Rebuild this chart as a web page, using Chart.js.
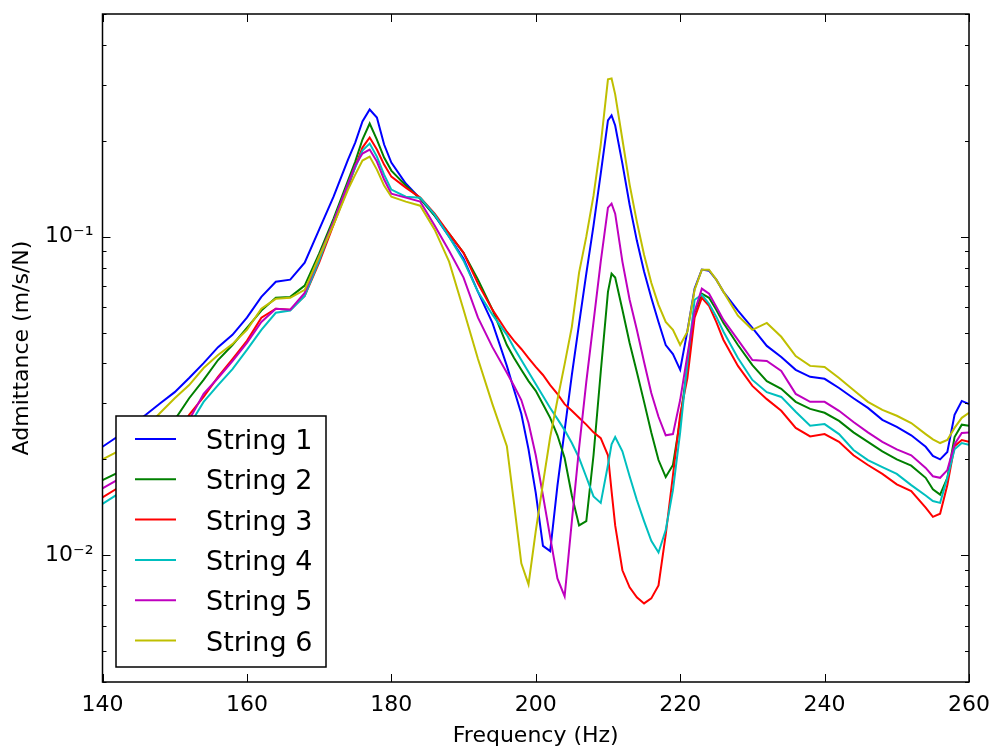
<!DOCTYPE html>
<html lang="en">
<head>
    <meta charset="UTF-8">
    <title>Admittance of six strings</title>
    <style>
        html, body { margin: 0; padding: 0; background: #fff; }
        #wrap { width: 991px; height: 749px; }
    </style>
</head>
<body>
    <div id="wrap"><canvas id="chart" width="991" height="749"></canvas></div>

    <script src="https://cdn.jsdelivr.net/npm/chart.js@4.4.1/dist/chart.umd.js"></script>

    <script>
        // frequency grid (Hz), denser around the sharp resonances
        const freq = [140,142,144,146,148,150,152,154,156,158,160,162,164,166,168,170,172,174,
            175,176,177,178,179,180,
            182,184,186,188,190,192,194,196,
            197,198,199,200,201,202,203,204,205,206,207,208,209,210,
            210.5,
            211,212,213,214,215,216,217,218,219,220,221,222,223,224,225,226,
            228,230,232,234,236,238,240,242,244,246,248,250,252,254,
            255,256,257,258,259,260];

        // admittance (m/s/N)
        const string1 = [0.0219,0.0235,0.0255,0.0276,0.0300,0.0325,0.0360,0.0401,0.0450,0.0492,0.0557,0.0647,0.0722,0.0733,0.0829,0.1052,0.1335,0.1746,
            0.1974,0.2299,0.2508,0.2367,0.1946,0.1708,
            0.1468,0.1316,0.1164,0.1000,0.0852,0.0671,0.0536,0.0393,
            0.0330,0.0278,0.0215,0.0157,0.0107,0.0103,0.0165,0.0247,0.0368,0.0532,0.0765,0.1083,0.1578,0.2316,
            0.2401,
            0.2234,0.1696,0.1260,0.0972,0.0777,0.0643,0.0540,0.0457,0.0428,0.0382,0.0506,0.0687,0.0788,0.0782,0.0733,0.0671,
            0.0586,0.0517,0.0454,0.0419,0.0382,0.0363,0.0358,0.0335,0.0311,0.0290,0.0266,0.0253,0.0238,0.0219,
            0.0205,0.0200,0.0211,0.0276,0.0305,0.0298];
        const string2 = [0.0172,0.0181,0.0199,0.0219,0.0242,0.0266,0.0311,0.0355,0.0410,0.0457,0.0517,0.0586,0.0643,0.0647,0.0702,0.0884,0.1139,0.1500,
            0.1721,0.2018,0.2266,0.2018,0.1771,0.1612,
            0.1447,0.1316,0.1164,0.1022,0.0890,0.0733,0.0590,0.0457,
            0.0416,0.0382,0.0352,0.0328,0.0298,0.0270,0.0238,0.0202,0.0154,0.0124,0.0128,0.0206,0.0376,0.0671,
            0.0765,
            0.0744,0.0590,0.0464,0.0376,0.0303,0.0243,0.0199,0.0176,0.0192,0.0266,0.0390,0.0577,0.0662,0.0643,0.0590,0.0536,
            0.0457,0.0395,0.0352,0.0333,0.0303,0.0288,0.0280,0.0264,0.0243,0.0227,0.0212,0.0200,0.0191,0.0175,
            0.0161,0.0155,0.0175,0.0235,0.0257,0.0255];
        const string3 = [0.0152,0.0162,0.0178,0.0196,0.0215,0.0235,0.0276,0.0314,0.0363,0.0413,0.0471,0.0557,0.0594,0.0590,0.0652,0.0829,0.1091,0.1426,
            0.1659,0.1904,0.2048,0.1877,0.1684,0.1543,
            0.1426,0.1326,0.1181,0.1022,0.0890,0.0712,0.0590,0.0503,
            0.0471,0.0444,0.0416,0.0390,0.0368,0.0342,0.0321,0.0298,0.0284,0.0270,0.0257,0.0243,0.0233,0.0206,
            0.0159,
            0.0124,0.00897,0.00793,0.00738,0.00706,0.00732,0.00804,0.0116,0.0178,0.0276,0.0360,0.0557,0.0643,0.0607,0.0540,0.0474,
            0.0393,0.0340,0.0309,0.0284,0.0251,0.0236,0.0240,0.0227,0.0206,0.0192,0.0180,0.0167,0.0159,0.0141,
            0.0132,0.0135,0.0166,0.0220,0.0230,0.0227];
        const string4 = [0.0145,0.0155,0.0170,0.0185,0.0203,0.0223,0.0255,0.0303,0.0342,0.0384,0.0441,0.0510,0.0577,0.0586,0.0652,0.0841,0.1115,0.1457,
            0.1648,0.1863,0.1960,0.1784,0.1566,0.1405,
            0.1335,0.1326,0.1173,0.1000,0.0841,0.0671,0.0569,0.0492,
            0.0447,0.0410,0.0376,0.0345,0.0316,0.0290,0.0268,0.0247,0.0225,0.0202,0.0176,0.0153,0.0146,0.0192,
            0.0223,
            0.0235,0.0212,0.0177,0.0149,0.0128,0.0111,0.0102,0.0120,0.0160,0.0243,0.0404,0.0634,0.0657,0.0616,0.0561,0.0503,
            0.0416,0.0355,0.0325,0.0314,0.0282,0.0255,0.0258,0.0240,0.0214,0.0199,0.0189,0.0180,0.0166,0.0154,
            0.0148,0.0146,0.0175,0.0215,0.0225,0.0222];
        const string5 = [0.0162,0.0172,0.0188,0.0205,0.0223,0.0243,0.0266,0.0321,0.0360,0.0407,0.0464,0.0540,0.0594,0.0590,0.0666,0.0865,0.1115,0.1468,
            0.1672,0.1823,0.1877,0.1721,0.1511,0.1365,
            0.1326,0.1288,0.1083,0.0903,0.0744,0.0557,0.0450,0.0374,
            0.0340,0.0307,0.0260,0.0206,0.0154,0.0114,0.00846,0.00743,0.0128,0.0217,0.0350,0.0540,0.0835,0.1233,
            0.1270,
            0.1181,0.0835,0.0634,0.0510,0.0404,0.0323,0.0272,0.0238,0.0240,0.0307,0.0425,0.0582,0.0687,0.0662,0.0603,0.0548,
            0.0474,0.0410,0.0407,0.0379,0.0321,0.0303,0.0303,0.0284,0.0262,0.0243,0.0227,0.0215,0.0206,0.0188,
            0.0177,0.0175,0.0185,0.0223,0.0242,0.0243];
        const string6 = [0.0200,0.0211,0.0228,0.0251,0.0280,0.0311,0.0342,0.0387,0.0425,0.0460,0.0510,0.0594,0.0638,0.0643,0.0681,0.0865,0.1091,0.1405,
            0.1566,0.1733,0.1784,0.1624,0.1447,0.1335,
            0.1288,0.1251,0.1052,0.0835,0.0590,0.0413,0.0298,0.0220,
            0.0145,0.00943,0.00810,0.0119,0.0168,0.0235,0.0307,0.0398,0.0521,0.0771,0.1000,0.1345,0.1946,0.3117,
            0.3139,
            0.2797,0.2018,0.1457,0.1115,0.0878,0.0717,0.0611,0.0540,0.0510,0.0457,0.0503,0.0681,0.0788,0.0788,0.0733,0.0671,
            0.0565,0.0510,0.0536,0.0485,0.0422,0.0393,0.0390,0.0360,0.0330,0.0303,0.0286,0.0274,0.0260,0.0240,
            0.0231,0.0225,0.0230,0.0251,0.0270,0.0280];

        const seriesNames = ['String 1', 'String 2', 'String 3', 'String 4', 'String 5', 'String 6'];
        const xTicks = [140, 160, 180, 200, 220, 240, 260];
        const yTicks = [0.01, 0.1];
        const yTickLabels = ['10\u207B\u00B2', '10\u207B\u00B9'];

        const FONT = '"DejaVu Sans", sans-serif';
        const colors = ['#0000ff', '#008000', '#ff0000', '#00bfbf', '#bf00bf', '#bfbf00'];
        const allSeries = [string1, string2, string3, string4, string5, string6];

        // matplotlib-style frame with inward ticks on all four sides
        const frameTicks = {
            id: 'frameTicks',
            afterDraw(chart) {
                const { ctx, chartArea: a, scales: { x, y } } = chart;
                ctx.save();
                ctx.strokeStyle = '#000';
                ctx.lineWidth = 1;
                ctx.beginPath();
                xTicks.forEach(v => {
                    const px = Math.round(x.getPixelForValue(v)) + 0.5;
                    ctx.moveTo(px, a.bottom); ctx.lineTo(px, a.bottom - 8);
                    ctx.moveTo(px, a.top); ctx.lineTo(px, a.top + 8);
                });
                for (let e = -3; e <= 0; e++) {
                    for (let k = 1; k <= 9; k++) {
                        const v = k * Math.pow(10, e);
                        if (v < y.min * 0.999 || v > y.max * 1.001) continue;
                        const len = k === 1 ? 8 : 4;
                        const py = Math.round(y.getPixelForValue(v)) + 0.5;
                        ctx.moveTo(a.left, py); ctx.lineTo(a.left + len, py);
                        ctx.moveTo(a.right, py); ctx.lineTo(a.right - len, py);
                    }
                }
                ctx.stroke();
                ctx.lineWidth = 1.5;
                ctx.strokeRect(a.left, a.top, a.right - a.left, a.bottom - a.top);
                ctx.restore();
            }
        };

        // boxed legend in the lower left of the axes, drawn over the lines
        const legendBox = {
            id: 'legendBox',
            afterDatasetsDraw(chart) {
                const { ctx, chartArea: a } = chart;
                const x0 = a.left + 13.5, y0 = a.bottom - 266, w = 210, h = 251;
                ctx.save();
                ctx.fillStyle = '#fff';
                ctx.fillRect(x0, y0, w, h);
                ctx.strokeStyle = '#000';
                ctx.lineWidth = 1.5;
                ctx.strokeRect(x0, y0, w, h);
                ctx.font = '27px ' + FONT;
                ctx.textBaseline = 'alphabetic';
                ctx.textAlign = 'left';
                chart.data.datasets.forEach((ds, i) => {
                    const ly = y0 + 23 + i * 40.3;
                    ctx.strokeStyle = ds.borderColor;
                    ctx.lineWidth = 2;
                    ctx.beginPath();
                    ctx.moveTo(x0 + 19, ly);
                    ctx.lineTo(x0 + 60, ly);
                    ctx.stroke();
                    ctx.fillStyle = '#000';
                    ctx.fillText(ds.label, x0 + 90, ly + 10);
                });
                ctx.restore();
            }
        };

        const datasets = allSeries.map((vals, i) => ({
            label: seriesNames[i],
            data: freq.map((f, j) => ({ x: f, y: vals[j] })),
            borderColor: colors[i],
            backgroundColor: colors[i],
            borderWidth: 2,
            pointRadius: 0,
            tension: 0,
            fill: false,
            order: allSeries.length - i
        }));

        new Chart(document.getElementById('chart'), {
            type: 'line',
            data: { datasets },
            options: {
                responsive: false,
                animation: false,
                layout: { padding: { left: 0, right: 22, top: 14, bottom: 0 } },
                plugins: {
                    legend: { display: false },
                    tooltip: { enabled: false }
                },
                scales: {
                    x: {
                        type: 'linear',
                        min: 140,
                        max: 260,
                        afterBuildTicks: s => { s.ticks = xTicks.map(v => ({ value: v })); },
                        afterFit: s => { s.height = 67; s.paddingLeft = 0; s.paddingRight = 0; },
                        grid: { display: false, drawTicks: false },
                        border: { display: false },
                        ticks: {
                            autoSkip: false,
                            maxRotation: 0,
                            padding: 10,
                            color: '#000',
                            font: { family: FONT, size: 22 }
                        },
                        title: {
                            display: true,
                            text: 'Frequency (Hz)',
                            color: '#000',
                            font: { family: FONT, size: 22 },
                            padding: { top: 0, bottom: 0 }
                        }
                    },
                    y: {
                        type: 'logarithmic',
                        min: 0.004,
                        max: 0.5,
                        afterBuildTicks: s => { s.ticks = yTicks.map(v => ({ value: v })); },
                        afterFit: s => { s.width = 102.5; s.paddingTop = 0; s.paddingBottom = 0; },
                        grid: { display: false, drawTicks: false },
                        border: { display: false },
                        ticks: {
                            callback: (v, i) => yTickLabels[i],
                            padding: 9,
                            color: '#000',
                            font: { family: FONT, size: 22 }
                        },
                        title: {
                            display: true,
                            text: 'Admittance (m/s/N)',
                            color: '#000',
                            font: { family: FONT, size: 22 },
                            padding: { top: 9, bottom: 0 }
                        }
                    }
                }
            },
            plugins: [frameTicks, legendBox]
        });
    </script>
</body>
</html>
